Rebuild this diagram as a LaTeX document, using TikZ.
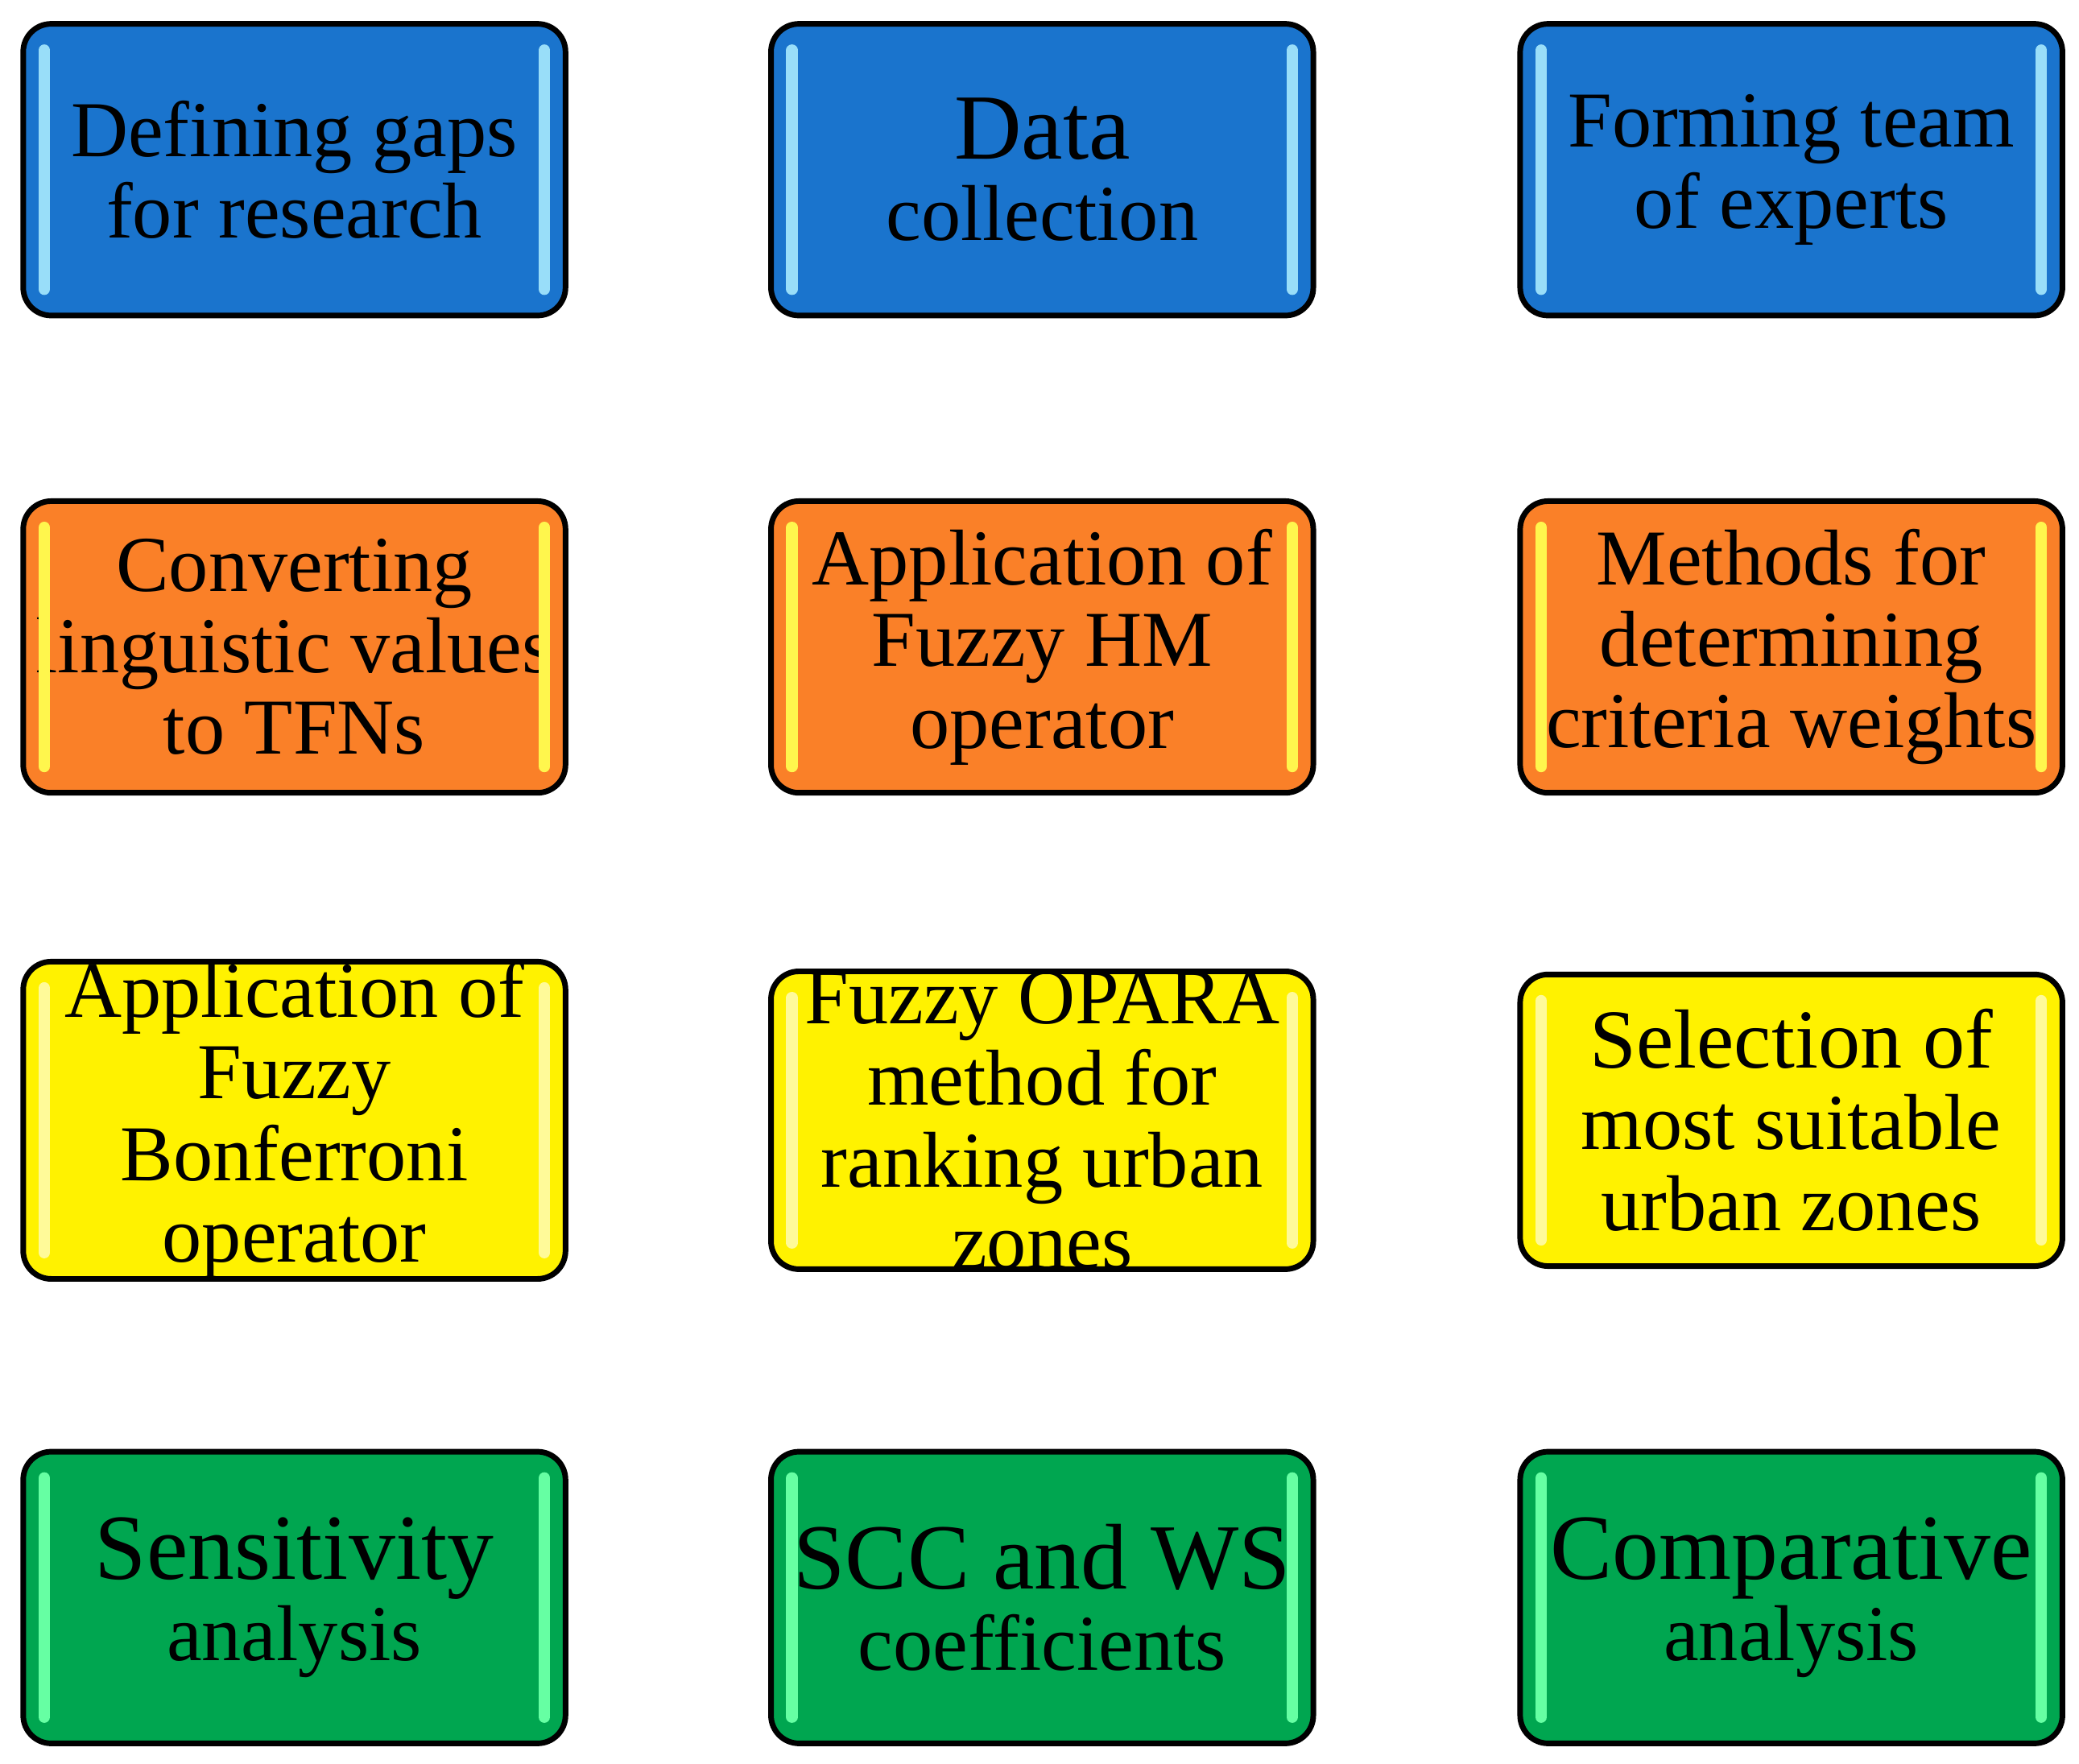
\documentclass[tikz,border=0pt]{standalone}
\usepackage{fontspec}
\setmainfont{Liberation Serif}
\begin{document}
\begin{tikzpicture}[x=0.1mm,y=-0.1mm,
  box/.style={draw=black,line width=1.2pt,rounded corners=6pt,minimum width=40.9mm,minimum height=22mm,align=center,font=\fontsize{17}{17.5}\selectfont,inner sep=0pt},
  blu/.style={box,fill={rgb,255:red,26;green,116;blue,205}},
  org/.style={box,fill={rgb,255:red,250;green,128;blue,40}},
  yel/.style={box,fill=yellow},
  grn/.style={box,fill={rgb,255:red,0;green,166;blue,80}},
  arr/.style={draw=black!70!red,line width=0.6pt,left color=red!60!black,right color=red,middle color=red!70!white}]
\useasboundingbox (0,0) rectangle (1568,1330);
\def\xs{{222,786,1351}}
\node[blu] (a1) at (222,128) {Defining gaps\\for research};
\node[blu] (a2) at (786,128) {\fontsize{20}{30}\selectfont Data\\collection};
\node[blu] (a3) at (1351,128) {Forming team\\of experts};
\node[org] (b3) at (1351,488) {Methods for\\determining\\criteria weights};
\node[org] (b2) at (786,488) {Application of\\Fuzzy HM\\operator};
\node[org] (b1) at (222,488) {Converting\\linguistic values\\to TFNs};
\node[yel] (c1) at (222,845) {Application of\\Fuzzy\\Bonferroni\\operator};
\node[yel] (c2) at (786,845) {Fuzzy OPARA\\method for\\ranking urban\\zones};
\node[yel] (c3) at (1351,845) {\fontsize{18}{21}\selectfont Selection of\\most suitable\\urban zones};
\node[grn] (d3) at (1351,1205) {\fontsize{20}{23}\selectfont Comparative\\analysis};
\node[grn] (d2) at (786,1205) {\fontsize{20}{23}\selectfont SCC and WS\\coefficients};
\node[grn] (d1) at (222,1205) {\fontsize{20}{23}\selectfont Sensitivity\\analysis};
% highlight strips
\foreach \n/\c in {a1/cyan!40,a2/cyan!40,a3/cyan!40,b1/yellow!70,b2/yellow!70,b3/yellow!70,c1/yellow!40!white,c2/yellow!40!white,c3/yellow!40!white,d1/green!60!cyan!60,d2/green!60!cyan!60,d3/green!60!cyan!60}{
  \draw[\c,line width=2.5pt,line cap=round] ([xshift=1.8mm,yshift=-2.2mm]\n.north west) -- ([xshift=1.8mm,yshift=2.2mm]\n.south west);
  \draw[\c,line width=2.5pt,line cap=round] ([xshift=-1.8mm,yshift=-2.2mm]\n.north east) -- ([xshift=-1.8mm,yshift=2.2mm]\n.south east);}
% arrows
\newcommand\rarr[1]{\path[arr] ($(#1)+(-45,-25)$) -- ++(45,0) -- ++(0,-22) -- ++(47,47) -- ++(-47,47) -- ++(0,-22) -- ++(-45,0) -- cycle;}
\newcommand\larr[1]{\path[arr] ($(#1)+(45,-25)$) -- ++(-45,0) -- ++(0,-22) -- ++(-47,47) -- ++(47,47) -- ++(0,-22) -- ++(45,0) -- cycle;}
\newcommand\darr[1]{\path[arr,top color=red!60!black,bottom color=red] ($(#1)+(-27,-40)$) -- ++(54,0) -- ++(0,40) -- ++(26,0) -- ++(-53,41) -- ++(-53,-41) -- ++(26,0) -- cycle;}
\end{tikzpicture}
\end{document}
